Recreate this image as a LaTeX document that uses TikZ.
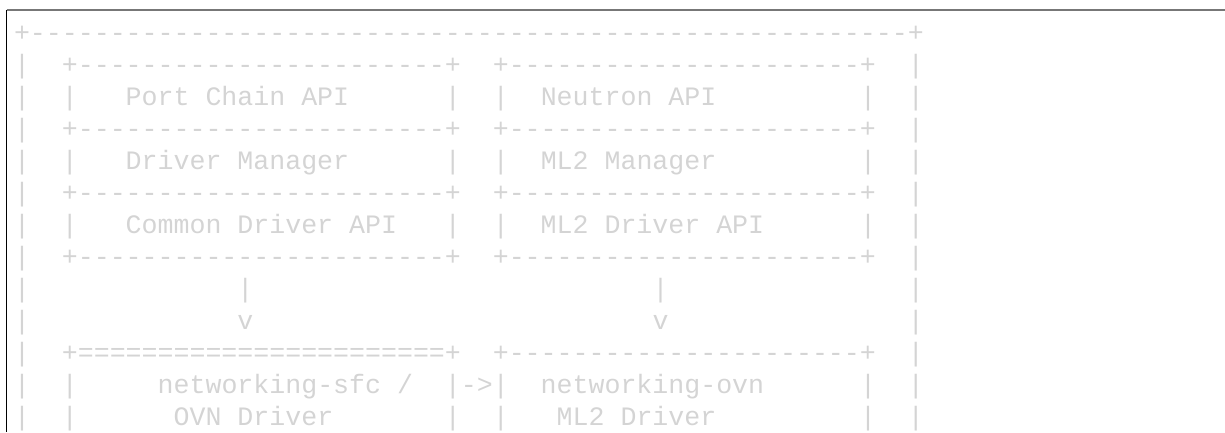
\documentclass[tikz,border=0pt]{standalone}
\usepackage{fontspec}
\setmonofont{Liberation Mono}
\definecolor{asciigray}{RGB}{212,212,212}
\definecolor{framegray}{RGB}{119,119,119}
\ExplSyntaxOn
\NewDocumentCommand\Rep{mm}{\prg_replicate:nn{#1}{#2}}
\ExplSyntaxOff
\begin{document}
\begin{tikzpicture}[x=1pt,y=-1pt,
  ascii/.style={anchor=base west,inner sep=0pt,outer sep=0pt,text=asciigray,
    font=\ttfamily\fontsize{26.6pt}{32pt}\selectfont}]
\useasboundingbox (0,0) rectangle (1225,432);
% frame
\coordinate (tl) at (6.7,10.3);
\coordinate (tr) at (1225,10.3);
\coordinate (bl) at (6.7,432);
\draw[framegray,line width=2pt] (tl) -- (tr);
\draw[black,line width=1.5pt] (tl) -- (bl);
% ascii rows
\node[ascii] (r0) at (14,41) {+\Rep{55}{-}+};
\node[ascii] (r1) at (14,73) {|~~+\Rep{23}{-}+~~+\Rep{22}{-}+~~|};
\node[ascii] (r2) at (14,105) {|~~|~~~Port~Chain~API\Rep{6}{~}|~~|~~Neutron~API\Rep{9}{~}|~~|};
\node[ascii] (r3) at (14,137) {|~~+\Rep{23}{-}+~~+\Rep{22}{-}+~~|};
\node[ascii] (r4) at (14,169) {|~~|~~~Driver~Manager\Rep{6}{~}|~~|~~ML2~Manager\Rep{9}{~}|~~|};
\node[ascii] (r5) at (14,201) {|~~+\Rep{23}{-}+~~+\Rep{22}{-}+~~|};
\node[ascii] (r6) at (14,233) {|~~|~~~Common~Driver~API~~~|~~|~~ML2~Driver~API\Rep{6}{~}|~~|};
\node[ascii] (r7) at (14,265) {|~~+\Rep{23}{-}+~~+\Rep{22}{-}+~~|};
\node[ascii] (r8) at (14,297) {|\Rep{13}{~}|\Rep{25}{~}|\Rep{15}{~}|};
\node[ascii] (r9) at (14,329) {|\Rep{13}{~}v\Rep{25}{~}v\Rep{15}{~}|};
\node[ascii] (r10) at (14,361) {|~~+\Rep{23}{=}+~~+\Rep{22}{-}+~~|};
\node[ascii] (r11) at (14,393) {|~~|\Rep{5}{~}networking-sfc~/~~|->|~~networking-ovn\Rep{6}{~}|~~|};
\node[ascii] (r12) at (14,425) {|~~|\Rep{6}{~}OVN~Driver\Rep{7}{~}|~~|~~~ML2~Driver\Rep{9}{~}|~~|};
\end{tikzpicture}
\end{document}
